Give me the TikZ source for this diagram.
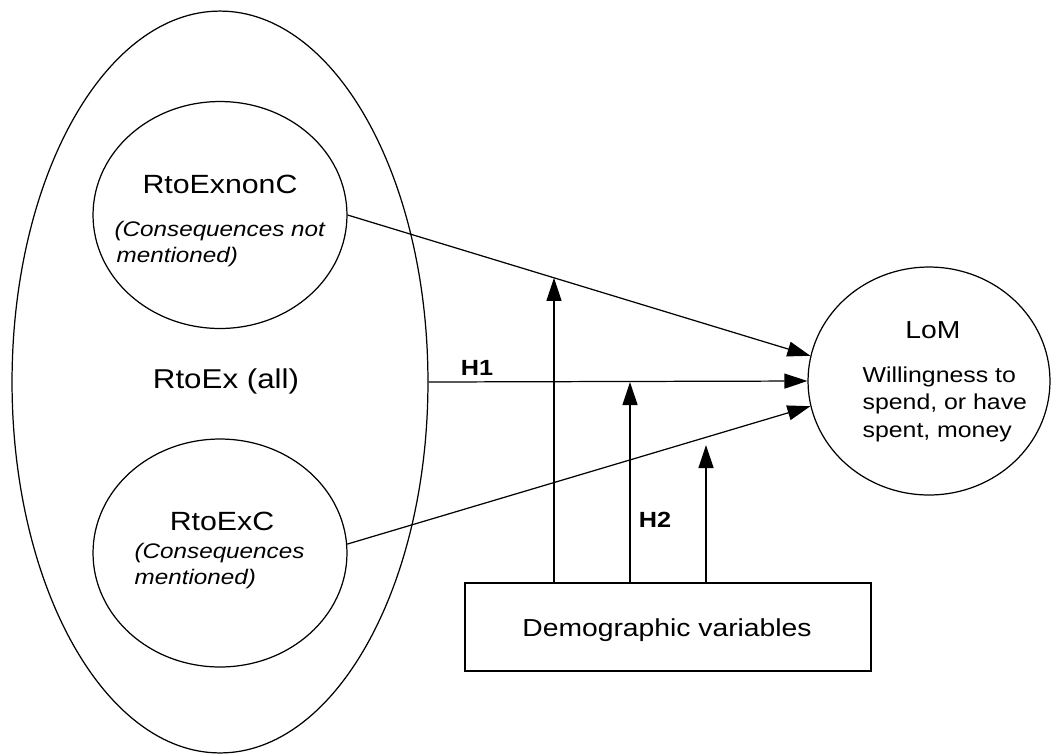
\documentclass[tikz,border=0pt]{standalone}
\usepackage{fontspec}
\setmainfont{Liberation Sans}[FakeStretch=1.15]
\usetikzlibrary{shapes.geometric,arrows.meta}
\begin{document}
\begin{tikzpicture}[x=0.02cm,y=-0.02cm,
  line width=0.7pt,
  oval/.style={draw,ellipse,inner sep=0pt},
  title/.style={anchor=base,inner sep=0pt},
  body/.style={anchor=base west,inner sep=0pt,font=\fontsize{12}{14}\selectfont\itshape},
  lombody/.style={anchor=base west,inner sep=0pt,font=\fontsize{12.3}{14}\selectfont},
  hyp/.style={anchor=base,inner sep=0pt,font=\fontsize{12.5}{14}\selectfont\bfseries},
  arr/.style={-{Triangle[length=0.46cm,width=0.3cm]}}]
\useasboundingbox (0,0) rectangle (1051,755);

% outer set and its two subsets
\node[oval,minimum width=8.32cm,minimum height=14.84cm] (big) at (220,382) {};
\node[oval,minimum width=5.08cm,minimum height=4.54cm] (top) at (220,215) {};
\node[oval,minimum width=5.08cm,minimum height=4.56cm] (bot) at (220,553) {};

% outcome and moderator
\node[oval,minimum width=4.84cm,minimum height=4.56cm] (lom) at (929,381) {};
\node[draw,rectangle,minimum width=8.12cm,minimum height=1.76cm,inner sep=0pt] (demo) at (668,627) {};

% texts
\node[title,font=\fontsize{15}{17}\selectfont] (t1) at (220,193) {RtoExnonC};
\node[body] (t1a) at (114,236) {(Consequences not};
\node[body] (t1b) at (116,262) {mentioned)};

\node[title,font=\fontsize{15.5}{18}\selectfont] (tall) at (226,388) {RtoEx (all)};

\node[title,font=\fontsize{15}{17}\selectfont] (t2) at (222,530) {RtoExC};
\node[body] (t2a) at (134,558) {(Consequences};
\node[body] (t2b) at (134,584) {mentioned)};

\node[title,font=\fontsize{14}{16}\selectfont] (t3) at (933,338) {LoM};
\node[lombody] (t3a) at (862,382) {Willingness to};
\node[lombody] (t3b) at (862,409) {spend, or have};
\node[lombody] (t3c) at (862,437) {spent, money};

\node[title,font=\fontsize{14}{16}\selectfont] (t4) at (667,636) {Demographic variables};

\node[hyp] (h1) at (477,375) {H1};
\node[hyp] (h2) at (655,527) {H2};

% main effects
\draw[arr] (top.east) -- (lom.168);
\draw[arr] (big.east) -- (lom.west);
\draw[arr] (bot.4) -- (lom.192);

% moderating effects
\coordinate (m1) at (intersection of top.east--lom.168 and 554,0--554,10);
\coordinate (m2) at (630,382);
\coordinate (m3) at (706,445);
\draw[arr] (demo.north -| m1) -- (m1);
\draw[arr] (demo.north -| m2) -- (m2);
\draw[arr] (demo.north -| m3) -- (m3);
\end{tikzpicture}
\end{document}
